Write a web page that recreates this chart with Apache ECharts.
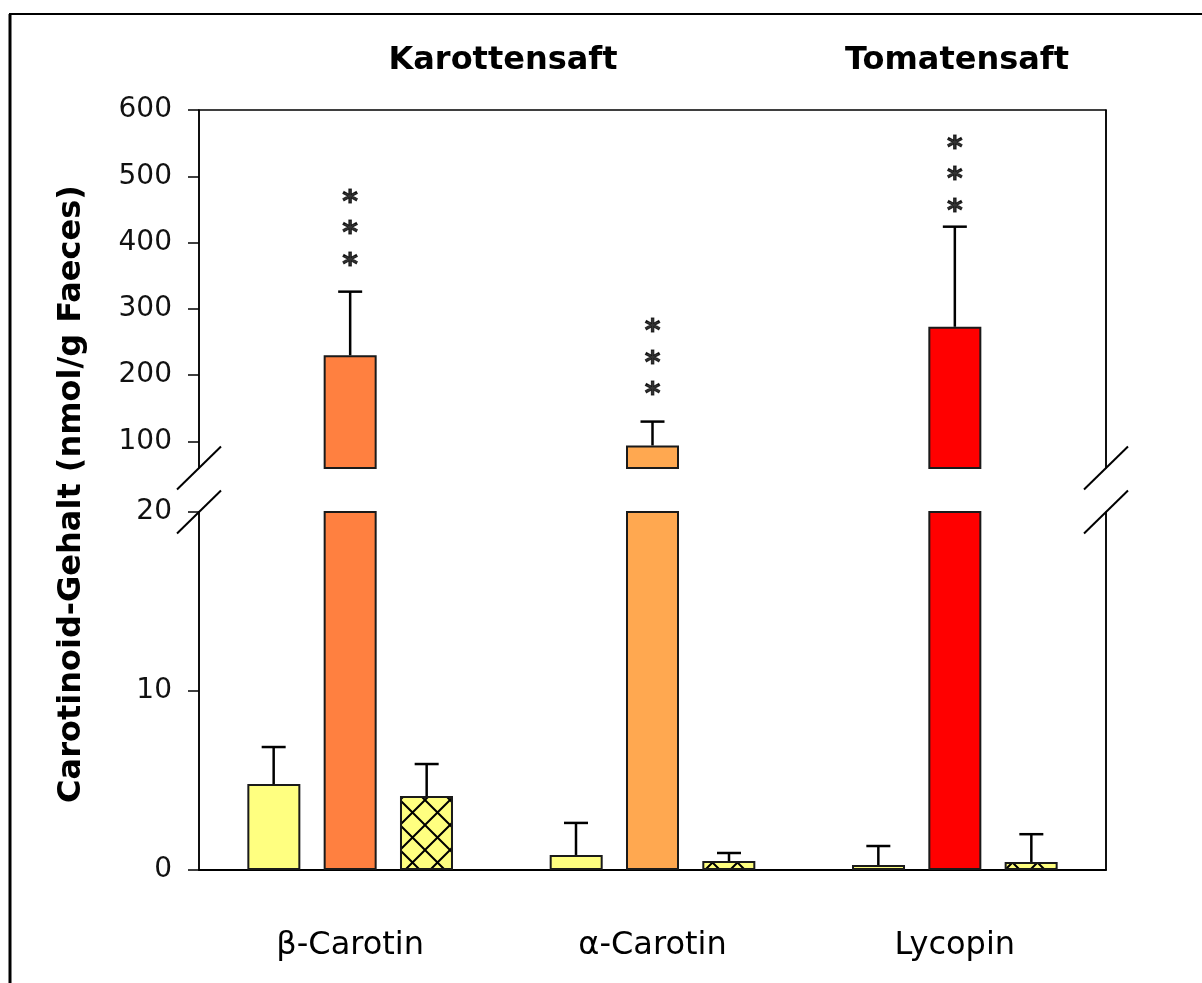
<!DOCTYPE html>
<html>
<head>
<meta charset="utf-8">
<script src="https://cdn.jsdelivr.net/npm/echarts@6/dist/echarts.min.js"></script>
<style>html,body{margin:0;padding:0;background:#fff}#c{width:1202px;height:983px}</style>
</head>
<body>
<div id="c"></div>
<script>
// ---- data ----
const categories = ['β-Carotin', 'α-Carotin', 'Lycopin'];
const groupTitles = ['Karottensaft', 'Tomatensaft'];
const controlMean = [4.8, 0.84, 0.28];
const controlErr  = [2.07, 1.79, 1.06];
const juiceMean   = [230, 94, 273];
const juiceErr    = [96, 36, 151];
const postMean    = [4.13, 0.5, 0.45];
const postErr     = [1.79, 0.45, 1.55];
const starAnchor  = [373, 177, 454];   // value of lowest asterisk (upper axis)
const upperTicks  = [100, 200, 300, 400, 500, 600];
const lowerTicks  = [0, 10, 20];
const yTitle = 'Carotinoid-Gehalt (nmol/g Faeces)';

// ---- layout constants ----
const GL = 199, GW = 907, UT = 110, UH = 358, LT = 512, LH = 358;
const BAR_W = 53, BAR_OFF = 76.5;
const juiceColors = ['#FF8040', '#FFA850', '#FF0000'];

const chart = echarts.init(document.getElementById('c'));

// crosshatch pattern
const pat = document.createElement('canvas');
pat.width = 25; pat.height = 25;
const pc = pat.getContext('2d');
pc.fillStyle = '#FFFF80'; pc.fillRect(0, 0, 25, 25);
pc.strokeStyle = '#000'; pc.lineWidth = 2;
pc.beginPath(); pc.moveTo(-2, -2); pc.lineTo(27, 27); pc.moveTo(27, -2); pc.lineTo(-2, 27); pc.stroke();

function errItem(offset) {
  return function (params, api) {
    const x = api.value(0), y = api.value(1), e = api.value(2);
    const p0 = api.coord([x, y]);
    const p1 = api.coord([x, y + e]);
    const cx = p0[0] + offset;
    const st = { stroke: '#000', lineWidth: 2.5 };
    return {
      type: 'group',
      children: [
        { type: 'line', shape: { x1: cx, y1: p0[1], x2: cx, y2: p1[1] }, style: st },
        { type: 'line', shape: { x1: cx - 12, y1: p1[1], x2: cx + 12, y2: p1[1] }, style: st }
      ]
    };
  };
}

const axisTxt = { color: '#111', fontFamily: 'DejaVu Sans', fontSize: 28 };
const blackLine = { show: true, lineStyle: { color: '#000', width: 1.5 } };
const dividerSplit = { show: true, interval: function (i) { return i === 2; }, lineStyle: { color: '#000', width: 1.5 } };

const barBorder = { borderColor: '#1a1a1a', borderWidth: 2 };
const titleStyle = { fontFamily: 'DejaVu Sans', fontWeight: 'bold', fontSize: 32, color: '#000' };

const option = {
  animation: false,
  backgroundColor: '#fff',
  title: [
    { text: groupTitles[0], left: 498, top: 40, textAlign: 'center', textStyle: titleStyle },
    { text: groupTitles[1], left: 952, top: 40, textAlign: 'center', textStyle: titleStyle }
  ],
  grid: [
    { left: GL, width: GW, top: UT, height: UH },
    { left: GL, width: GW, top: LT, height: LH }
  ],
  xAxis: [
    { type: 'category', gridIndex: 0, data: categories, position: 'top',
      axisLine: blackLine, axisTick: { show: false }, axisLabel: { show: false },
      splitLine: dividerSplit },
    { type: 'category', gridIndex: 1, data: categories, position: 'bottom',
      axisLine: { show: true, lineStyle: { color: '#000', width: 2 } }, axisTick: { show: false },
      axisLabel: { color: '#000', fontFamily: 'DejaVu Sans', fontSize: 32, margin: 60 },
      splitLine: dividerSplit }
  ],
  yAxis: [
    { type: 'value', gridIndex: 0, min: 60, max: 600, position: 'left',
      axisLine: blackLine,
      axisTick: { show: true, inside: false, length: 11, lineStyle: { color: '#000', width: 1.5 }, customValues: upperTicks },
      axisLabel: Object.assign({ margin: 27, customValues: upperTicks }, axisTxt),
      splitLine: { show: false } },
    { type: 'value', gridIndex: 1, min: 0, max: 20, interval: 10, position: 'left',
      axisLine: blackLine,
      axisTick: { show: true, inside: false, length: 11, lineStyle: { color: '#000', width: 1.5 } },
      axisLabel: Object.assign({ margin: 27, customValues: lowerTicks }, axisTxt),
      splitLine: { show: false } },
    { type: 'value', gridIndex: 0, min: 60, max: 600, position: 'right',
      axisLine: blackLine, axisTick: { show: false }, axisLabel: { show: false }, splitLine: { show: false } },
    { type: 'value', gridIndex: 1, min: 0, max: 20, position: 'right',
      axisLine: blackLine, axisTick: { show: false }, axisLabel: { show: false }, splitLine: { show: false } }
  ],
  series: [
    // upper grid: juice bars
    { type: 'bar', xAxisIndex: 0, yAxisIndex: 0, barWidth: BAR_W,
      data: juiceMean.map((v, i) => ({ value: v, itemStyle: Object.assign({ color: juiceColors[i] }, barBorder) })) },
    { type: 'custom', xAxisIndex: 0, yAxisIndex: 0, z: 5, renderItem: errItem(0),
      data: juiceMean.map((v, i) => [i, v, juiceErr[i]]) },
    { type: 'scatter', xAxisIndex: 0, yAxisIndex: 0, symbolSize: 0, z: 6,
      data: starAnchor.map((v, i) => [i, v]),
      label: { show: true, position: [0, 0], align: 'center', verticalAlign: 'bottom', offset: [0, 21],
        formatter: '*\n*\n*', lineHeight: 31.5, fontSize: 30, fontWeight: 'bold', fontFamily: 'DejaVu Sans',
        color: '#000', textBorderColor: '#000', textBorderWidth: 1 } },
    // lower grid: three bars per category
    { type: 'bar', xAxisIndex: 1, yAxisIndex: 1, barWidth: BAR_W, barGap: '44%',
      itemStyle: Object.assign({ color: '#FFFF80' }, barBorder), data: controlMean },
    { type: 'bar', xAxisIndex: 1, yAxisIndex: 1, barWidth: BAR_W, barGap: '44%',
      data: juiceMean.map((v, i) => ({ value: v, itemStyle: Object.assign({ color: juiceColors[i] }, barBorder) })) },
    { type: 'bar', xAxisIndex: 1, yAxisIndex: 1, barWidth: BAR_W, barGap: '44%',
      itemStyle: Object.assign({ color: { image: pat, repeat: 'repeat' } }, barBorder), data: postMean },
    { type: 'custom', xAxisIndex: 1, yAxisIndex: 1, z: 5, renderItem: errItem(-BAR_OFF),
      data: controlMean.map((v, i) => [i, v, controlErr[i]]) },
    { type: 'custom', xAxisIndex: 1, yAxisIndex: 1, z: 5, renderItem: errItem(BAR_OFF),
      data: postMean.map((v, i) => [i, v, postErr[i]]) }
  ],
  graphic: [
    // outer frame
    { type: 'line', shape: { x1: 10, y1: 14, x2: 10, y2: 983 }, style: { stroke: '#000', lineWidth: 3 } },
    { type: 'line', shape: { x1: 9, y1: 14, x2: 1202, y2: 14 }, style: { stroke: '#000', lineWidth: 2 } },
    // axis breaks
    { type: 'line', shape: { x1: GL - 22, y1: UT + UH + 21.5, x2: GL + 22, y2: UT + UH - 21.5 }, style: { stroke: '#000', lineWidth: 2 }, z: 10 },
    { type: 'line', shape: { x1: GL - 22, y1: LT + 21.5, x2: GL + 22, y2: LT - 21.5 }, style: { stroke: '#000', lineWidth: 2 }, z: 10 },
    { type: 'line', shape: { x1: GL + GW - 22, y1: UT + UH + 21.5, x2: GL + GW + 22, y2: UT + UH - 21.5 }, style: { stroke: '#000', lineWidth: 2 }, z: 10 },
    { type: 'line', shape: { x1: GL + GW - 22, y1: LT + 21.5, x2: GL + GW + 22, y2: LT - 21.5 }, style: { stroke: '#000', lineWidth: 2 }, z: 10 },
    // y title
    { type: 'text', x: 72, y: 494, rotation: Math.PI / 2,
      style: { text: yTitle, fontFamily: 'DejaVu Sans', fontWeight: 'bold', fontSize: 32, fill: '#000',
        textAlign: 'center', textVerticalAlign: 'middle' } }
  ]
};
chart.setOption(option);
</script>
</body>
</html>
